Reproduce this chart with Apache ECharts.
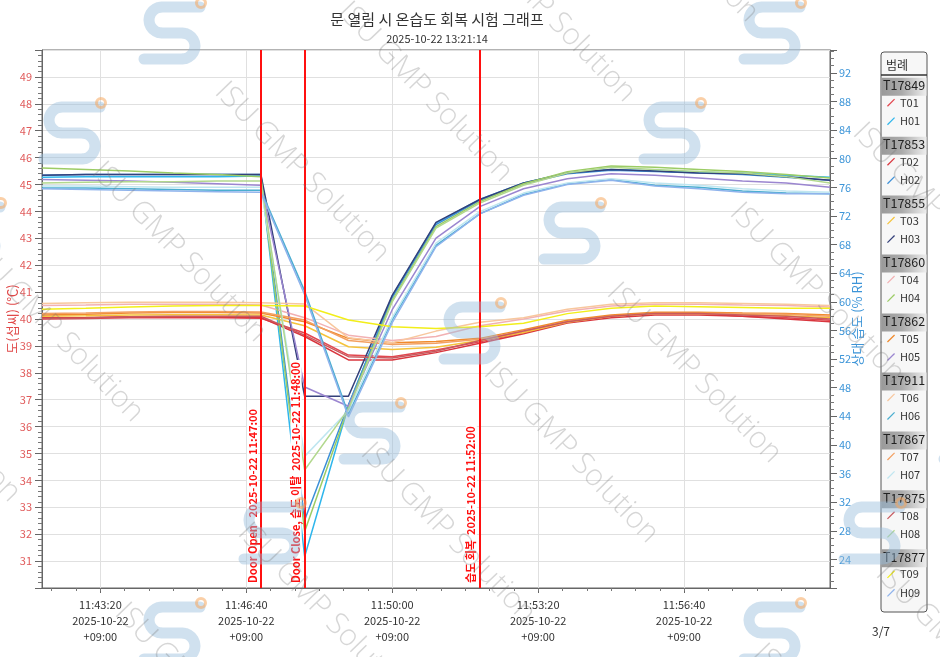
<!DOCTYPE html>
<html><head><meta charset="utf-8">
<script src="https://cdn.jsdelivr.net/npm/echarts@6/dist/echarts.min.js"></script>
<style>html,body{margin:0;padding:0;background:#fff}#c{width:940px;height:657px}</style>
</head><body><div id="c"></div>
<script>
// ---------- data ----------
const times = ['11:42','11:43','11:44','11:45','11:46','11:47','11:48','11:49','11:50','11:51','11:52','11:53','11:54','11:55','11:56','11:57','11:58','11:59','12:00'];

const T01 = [40.00,40.02,40.05,40.06,40.05,40.03,39.48,38.66,38.60,38.85,39.15,39.50,39.90,40.10,40.20,40.20,40.10,40.05,39.95];
const T02 = [40.05,40.06,40.08,40.08,40.07,40.05,39.35,38.48,38.48,38.75,39.10,39.45,39.85,40.05,40.15,40.15,40.10,40.00,39.90];
const T03 = [40.10,40.12,40.15,40.16,40.16,40.15,39.75,38.97,38.87,38.95,39.20,39.50,39.88,40.10,40.20,40.20,40.18,40.12,40.05];
const T04 = [40.50,40.52,40.55,40.55,40.55,40.52,40.05,39.40,39.20,39.35,39.75,40.00,40.30,40.48,40.55,40.55,40.52,40.50,40.45];
const T05 = [40.15,40.18,40.22,40.24,40.24,40.22,39.90,39.28,39.12,39.16,39.28,39.60,39.95,40.15,40.25,40.25,40.22,40.20,40.15];
const T06 = [40.58,40.60,40.62,40.62,40.62,40.60,40.56,39.30,39.12,39.55,39.88,40.05,40.36,40.55,40.60,40.60,40.58,40.55,40.50];
const T07 = [40.20,40.22,40.26,40.28,40.28,40.26,39.96,39.20,39.05,39.10,39.25,39.55,39.90,40.10,40.20,40.20,40.20,40.18,40.10];
const T08 = [40.02,40.04,40.08,40.10,40.10,40.10,39.40,38.60,38.55,38.80,39.20,39.55,39.90,40.10,40.20,40.20,40.15,40.10,40.00];
const T09 = [40.36,40.40,40.45,40.48,40.50,40.50,40.48,39.96,39.71,39.65,39.71,39.84,40.20,40.40,40.48,40.46,40.43,40.40,40.40];

const H01 = [77.4,77.5,77.5,77.5,77.5,77.6,24.4,45.5,60.8,71.0,74.3,76.6,78.0,78.5,78.3,78.1,78.0,77.7,77.4];
const H02 = [77.7,77.8,77.8,77.8,77.8,77.8,29.5,45.6,60.6,70.8,74.2,76.5,77.9,78.4,78.2,78.0,77.8,77.4,77.0];
const H03 = [77.7,77.8,77.8,77.8,77.8,77.8,46.8,46.8,60.9,71.1,74.3,76.6,78.0,78.5,78.3,78.0,77.9,77.5,77.0];
const H04 = [78.7,78.5,78.3,78.0,77.8,77.5,27.9,45.3,60.2,70.5,74.0,76.5,78.2,79.0,78.8,78.5,78.2,77.8,77.3];
const H05 = [77.1,77.0,76.9,76.7,76.5,76.3,48.1,45.4,58.9,68.9,73.3,75.8,77.2,77.9,77.7,77.3,76.9,76.6,76.0];
const H06 = [75.9,75.9,75.8,75.7,75.6,75.6,61.5,44.3,57.5,67.9,72.3,75.0,76.5,77.1,76.3,76.0,75.5,75.2,75.1];
const H07 = [76.2,76.2,76.1,76.0,76.0,76.0,38.4,44.8,57.8,68.2,72.6,75.2,76.6,77.2,76.6,76.3,75.8,75.5,75.3];
const H08 = [76.6,76.7,76.8,76.8,76.9,76.9,36.5,45.0,60.0,70.3,73.8,76.3,78.0,78.8,78.5,78.2,78.0,77.5,76.6];
const H09 = [75.8,75.7,75.6,75.5,75.4,75.3,61.0,43.9,57.1,67.7,72.3,74.9,76.4,77.0,76.2,75.8,75.3,75.1,75.1];

const loggerIds = ['T17849','T17853','T17855','T17860','T17862','T17911','T17867','T17875','T17877'];
const tNames = ['T01','T02','T03','T04','T05','T06','T07','T08','T09'];
const hNames = ['H01','H02','H03','H04','H05','H06','H07','H08','H09'];
const tValues = [T01,T02,T03,T04,T05,T06,T07,T08,T09];
const hValues = [H01,H02,H03,H04,H05,H06,H07,H08,H09];
const tColors = ['#e2474f','#d9363e','#f5c33b','#f2b1b3','#f08a2c','#f8c79e','#f3a062','#c85a5f','#f2ee1a'];
const hColors = ['#2fb6ec','#3b8fd8','#34407a','#9ccc65','#9b86d0','#4aaed0','#bfe6f0','#b2d88e','#8fb3ec'];

const xRange = ['11:42:00','12:00:00'];
const xTickLabels = ['11:43:20','11:46:40','11:50:00','11:53:20','11:56:40'];
const xDate = '2025-10-22';
const xZone = '+09:00';
const markerTimes = ['11:47:00','11:48:00','11:52:00'];
const markerLabels = ['Door Open   2025-10-22 11:47:00','Door Close, 습도 이탈  2025-10-22 11:48:00','습도 회복  2025-10-22 11:52:00'];

const titleText = '문 열림 시 온습도 회복 시험 그래프';
const subText = '2025-10-22 13:21:14';
const tAxisName = '도(섭씨) (℃)';
const hAxisName = '상대 습도 (% RH)';
const watermarkText = 'ISU GMP Solution';
const pageText = '3/7';

// ---------- helpers ----------
const FONT = "'Noto Sans CJK KR','Noto Sans',sans-serif";
function toSec(s){const p=s.split(':').map(Number);return p[0]*3600+p[1]*60+(p[2]||0);}
function pad(n){return (n<10?'0':'')+n;}
function fmt(v){v=Math.round(v);return pad(Math.floor(v/3600))+':'+pad(Math.floor(v%3600/60))+':'+pad(v%60);}
const xMin = toSec(xRange[0]), xMax = toSec(xRange[1]);
const majorTicks = xTickLabels.map(toSec);
const step = majorTicks[1]-majorTicks[0];
const minorTicks = [];
for (let k=-12;k<40;k++){const v=majorTicks[0]+k*step/6; if(v>xMin&&v<xMax) minorTicks.push(v);}

const series = [];
for (let i=0;i<9;i++){
  series.push({name:tNames[i],type:'line',yAxisIndex:0,showSymbol:false,symbol:'none',
    lineStyle:{width:1.5,color:tColors[i]},itemStyle:{color:tColors[i]},
    data:times.map((t,j)=>[toSec(t),tValues[i][j]])});
  series.push({name:hNames[i],type:'line',yAxisIndex:1,showSymbol:false,symbol:'none',
    lineStyle:{width:1.5,color:hColors[i]},itemStyle:{color:hColors[i]},
    data:times.map((t,j)=>[toSec(t),hValues[i][j]])});
}
series.push({type:'line',data:[],z:10,
  markLine:{silent:true,symbol:'none',animation:false,
    lineStyle:{color:'#ff1010',width:2,type:'solid'},
    label:{show:true,position:'insideStartTop',distance:3,color:'#ff1010',fontSize:11,fontWeight:'bold',fontFamily:FONT,backgroundColor:'#fff',padding:[0,2]},
    data:markerTimes.map((t,i)=>({xAxis:toSec(t),label:{formatter:markerLabels[i]}}))}});

// legend
const groupTop0 = 86.7, groupStep = 58.95;
const legendIcon = 'path://M0,9L8,1L9,2L1,10Z';
const legends = loggerIds.map((id,i)=>({
  data:[tNames[i],hNames[i]],orient:'vertical',left:887,top:groupTop0+i*groupStep+10,
  itemGap:6.5,itemWidth:8,itemHeight:9,icon:legendIcon,selectedMode:false,padding:0,
  textStyle:{fontSize:11,color:'#333',fontFamily:FONT,lineHeight:12}
}));
const graphics = [
  {type:'rect',shape:{x:881,y:52,width:46,height:560,r:3},style:{fill:'#f7f7f7',stroke:'#555',lineWidth:1},z:-1},
  {type:'text',x:886,y:59,style:{text:'범례',fontSize:12,fill:'#333',fontFamily:FONT}},
  {type:'line',shape:{x1:881,y1:75,x2:927,y2:75},style:{stroke:'#333',lineWidth:1.5}},
  {type:'text',x:872,y:625,style:{text:pageText,fontSize:12,fill:'#333',fontFamily:FONT}}
];
loggerIds.forEach((id,i)=>{
  const g = groupTop0+i*groupStep;
  graphics.push({type:'rect',shape:{x:881.5,y:g-9,width:45,height:18},
    style:{fill:new echarts.graphic.LinearGradient(0,0,1,0,[{offset:0,color:'#9a9a9a'},{offset:0.45,color:'#aaaaaa'},{offset:1,color:'#eeeeee'}])}});
  graphics.push({type:'text',x:883,y:g-7.5,style:{text:id,fontSize:12.5,fill:'#222',fontFamily:FONT}});
});
// watermark: logos (lattice) and text (lattice)
function logoPoints(){
  const pts=[[28,-26],[-10,-26]];
  for(let a=1;a<=12;a++){const t=-Math.PI/2-a*Math.PI/12;pts.push([-10+13*Math.cos(t),-13+13*Math.sin(t)]);}
  pts.push([10,0]);
  for(let a=1;a<=12;a++){const t=-Math.PI/2+a*Math.PI/12;pts.push([10+13*Math.cos(t),13+13*Math.sin(t)]);}
  pts.push([-28,26]);
  return pts;
}
const logoPts = logoPoints();
const logoO = [472,333], logoA = [100,-100], logoB = [300,300];
for (let k=-5;k<=5;k++) for (let m=-2;m<=2;m++){
  const x = logoO[0]+k*logoA[0]+m*logoB[0], y = logoO[1]+k*logoA[1]+m*logoB[1];
  if (x<-40||x>980||y<-40||y>700) continue;
  graphics.push({type:'polyline',x:x,y:y,z:90,silent:true,shape:{points:logoPts},
    style:{fill:null,stroke:'rgba(150,188,220,0.45)',lineWidth:11,lineCap:'round',lineJoin:'round'}});
  graphics.push({type:'circle',x:x+29,y:y-30,z:90,silent:true,shape:{cx:0,cy:0,r:4.5},
    style:{fill:null,stroke:'rgba(245,168,95,0.55)',lineWidth:3}});
}
const wmAngle = 46*Math.PI/180;
const wmA = [220,87], wmP = [123,-80], wmD = [269,281];
for (let i=-4;i<=4;i++) for (let j=-1;j<=2;j++){
  const x = wmA[0]+i*wmP[0]+j*wmD[0], y = wmA[1]+i*wmP[1]+j*wmD[1];
  if (x<-300||x>960||y<-220||y>680) continue;
  graphics.push({type:'text',x:x,y:y,rotation:-wmAngle,z:100,silent:true,
    style:{text:watermarkText,fontSize:30,fontWeight:300,fill:'rgba(120,120,120,0.30)',fontFamily:"'Open Sans','Noto Sans',sans-serif",textVerticalAlign:'middle'}});
}

const chart = echarts.init(document.getElementById('c'));
chart.setOption({
  animation:false,
  backgroundColor:'#fff',
  textStyle:{fontFamily:FONT},
  title:{text:titleText,subtext:subText,left:432,textAlign:'center',top:7,itemGap:6,
    textStyle:{fontSize:15,fontWeight:'normal',color:'#333',fontFamily:FONT},
    subtextStyle:{fontSize:11,color:'#333',fontFamily:FONT}},
  grid:{left:42,right:110,top:50,bottom:69,show:true,borderColor:'#666',borderWidth:1,outerBoundsMode:'none',containLabel:false},
  legend:legends,
  xAxis:[
    {type:'value',min:xMin,max:xMax,position:'bottom',
     axisLine:{show:true,lineStyle:{color:'#666'}},
     axisTick:{show:true,customValues:majorTicks,length:5,lineStyle:{color:'#666'}},
     axisLabel:{customValues:majorTicks,formatter:v=>fmt(v)+'\n'+xDate+'\n'+xZone,color:'#333',fontSize:11,lineHeight:16,margin:9},
     splitLine:{show:true,lineStyle:{color:'#e0e0e0'}}},
    {type:'value',min:xMin,max:xMax,position:'bottom',
     axisLine:{show:false},axisLabel:{show:false},splitLine:{show:false},
     axisTick:{show:true,customValues:minorTicks,length:3,lineStyle:{color:'#777'}}}
  ],
  yAxis:[
    {type:'value',min:30,max:50,interval:1,position:'left',
     name:tAxisName,nameLocation:'middle',nameGap:23,nameMoveOverlap:false,nameTextStyle:{color:'#e04848',fontSize:13,fontFamily:FONT},
     axisLine:{show:true,lineStyle:{color:'#666'}},
     axisTick:{show:true,length:7,lineStyle:{color:'#666'}},
     minorTick:{show:true,splitNumber:5,length:4,lineStyle:{color:'#777'}},
     axisLabel:{color:'#e05a5a',fontSize:11,margin:10,showMinLabel:false,showMaxLabel:false},
     splitLine:{show:true,lineStyle:{color:'#e0e0e0'}}},
    {type:'value',min:20,max:95.2,interval:4,position:'right',
     name:hAxisName,nameLocation:'middle',nameGap:21,nameRotate:90,nameMoveOverlap:false,nameTextStyle:{color:'#3d95d8',fontSize:13,fontFamily:FONT},
     axisLine:{show:true,lineStyle:{color:'#666'}},
     axisTick:{show:true,length:7,lineStyle:{color:'#666'}},
     minorTick:{show:true,splitNumber:4,length:4,lineStyle:{color:'#777'}},
     axisLabel:{color:'#3d95d8',fontSize:11,margin:9,showMinLabel:false,showMaxLabel:false},
     splitLine:{show:false}}
  ],
  series:series,
  graphic:graphics
});
</script></body></html>
